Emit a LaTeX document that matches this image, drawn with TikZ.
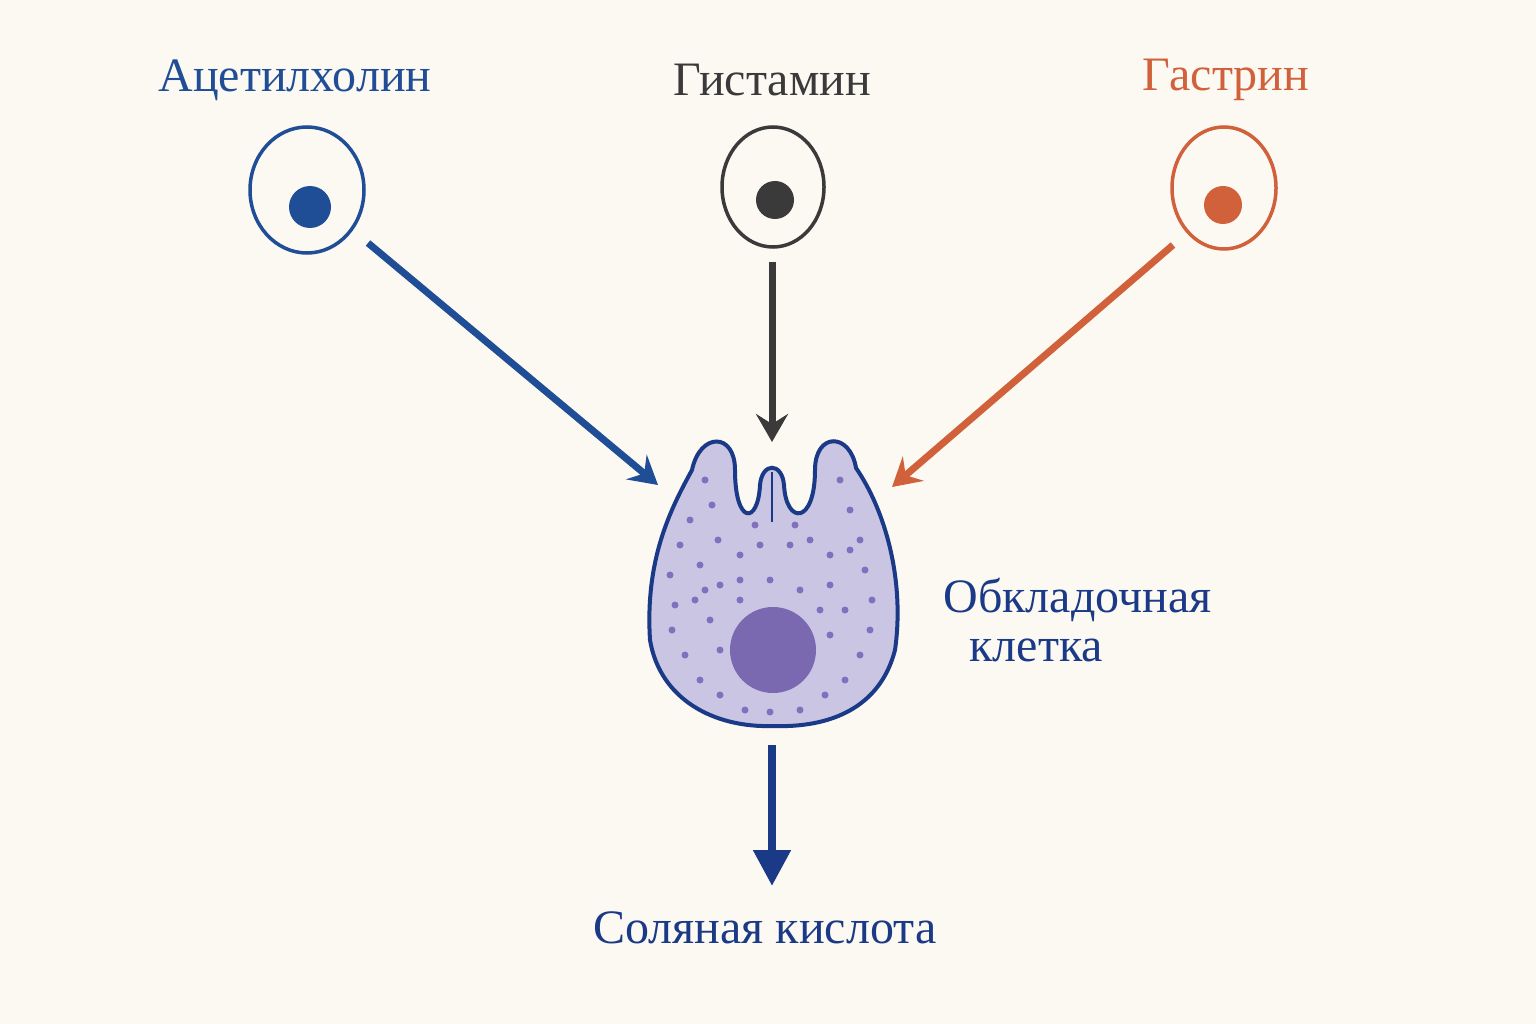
\documentclass[tikz,border=0pt]{standalone}
\usepackage{fontspec}
\setmainfont{Liberation Serif}
\usetikzlibrary{arrows.meta}
\definecolor{bg}{HTML}{FCF8F2}
\definecolor{cblue}{HTML}{1F4E96}
\definecolor{cgray}{HTML}{3A3A3A}
\definecolor{corange}{HTML}{D0613A}
\definecolor{dblue}{HTML}{1A3A88}
\definecolor{cellfill}{HTML}{CBC5E4}
\definecolor{dotc}{HTML}{8070BE}
\definecolor{nuc}{HTML}{7A68B0}
\begin{document}
\begin{tikzpicture}[x=1pt,y=-1pt,
  lbl/.style={font=\fontsize{48}{54}\selectfont},
  arr/.style={line width=7pt,-{Stealth[length=28pt,width=32pt,inset=10pt]}},
  dot/.style={fill=dotc,circle,inner sep=0pt,minimum size=7pt}]
\fill[bg] (0,0) rectangle (1536,1024);
\useasboundingbox (0,0) rectangle (1536,1024);
\node[lbl,text=cblue] (tA) at (295,80) {Ацетилхолин};
\node[lbl,text=cgray] (tH) at (772,80) {Гистамин};
\node[lbl,text=corange] (tG) at (1226,80) {Гастрин};
\draw[cblue,line width=3.5pt] (307,190) ellipse [x radius=57,y radius=63];
\fill[cblue] (310,207) circle (21);
\draw[cgray,line width=3.5pt] (773,187) ellipse [x radius=51,y radius=60];
\fill[cgray] (775,200) circle (19);
\draw[corange,line width=3.5pt] (1224,188) ellipse [x radius=52,y radius=61];
\fill[corange] (1223,205) circle (19);
\coordinate (a1) at (368,243); \coordinate (a2) at (658,485);
\coordinate (h1) at (772,262); \coordinate (h2) at (772,442);
\coordinate (g1) at (1173,245); \coordinate (g2) at (892,487);
\draw[arr,cblue] (a1) -- (a2);
\draw[arr,cgray] (h1) -- (h2);
\draw[arr,corange] (g1) -- (g2);
\draw[dblue,line width=4pt,fill=cellfill]
 (692,470) .. controls (700,432) and (735,432) .. (735,470)
 .. controls (735,525) and (758,525) .. (760,485)
 .. controls (762,462) and (782,462) .. (784,485)
 .. controls (786,525) and (815,525) .. (815,470)
 .. controls (815,432) and (850,432) .. (856,468)
 .. controls (885,510) and (905,580) .. (895,650)
 .. controls (880,708) and (830,728) .. (773,726)
 .. controls (715,728) and (660,700) .. (650,640)
 .. controls (645,560) and (670,510) .. (692,470) -- cycle;
\draw[dblue,line width=2pt] (772,472) -- (772,522);
\foreach \p in {(705,480),(712,505),(690,520),(680,545),(670,575),(675,605),(672,630),(685,655),(700,680),(720,695),(745,710),(770,712),(800,710),(825,695),(845,680),(860,655),(870,630),(872,600),(865,570),(860,540),(850,510),(840,480),(718,540),(740,555),(760,545),(790,545),(810,540),(830,555),(700,565),(720,585),(740,600),(710,620),(720,650),(770,580),(800,590),(830,585),(845,610),(830,635),(850,550),(695,600),(755,525),(795,525),(740,580),(820,610),(705,590)}
  \node[dot] at \p {};
\fill[nuc] (773,650) circle (43);
\node[lbl,text=dblue,anchor=west] (tC1) at (940,600) {Обкладочная};
\node[lbl,text=dblue,anchor=west] (tC2) at (966,650) {клетка};
\coordinate (s1) at (772,745); \coordinate (s2) at (772,886);
\draw[dblue,line width=8pt,-{Triangle[length=36pt,width=36pt]}] (s1) -- (s2);
\node[lbl,text=dblue] (tS) at (765,928) {Соляная кислота};
\end{tikzpicture}
\end{document}
